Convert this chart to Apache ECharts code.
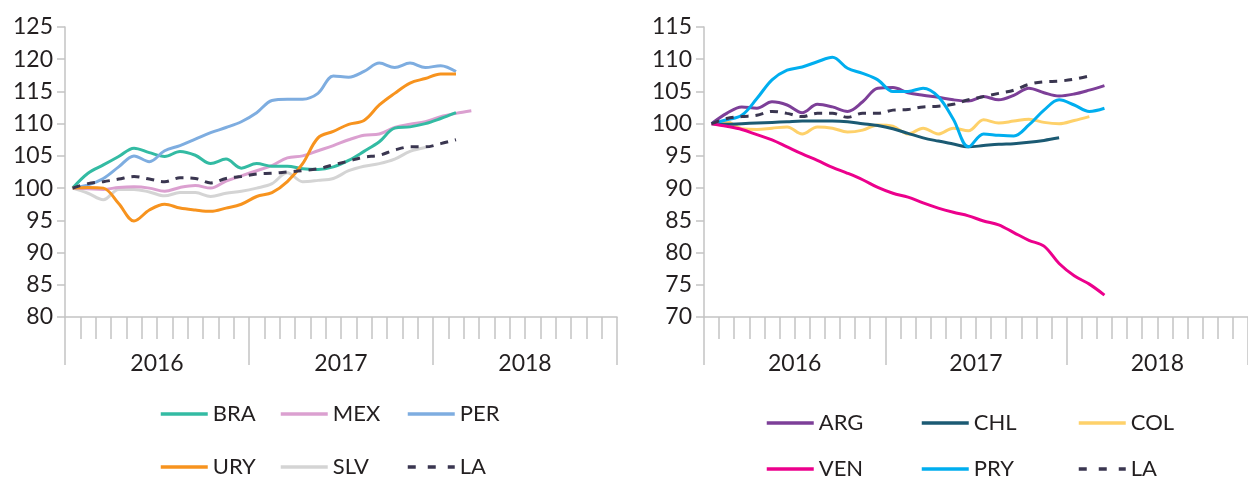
<!DOCTYPE html>
<html><head><meta charset="utf-8">
<script src="https://cdn.jsdelivr.net/npm/echarts@6/dist/echarts.min.js"></script>
<style>html,body{margin:0;padding:0;background:#fff}#c{width:1248px;height:479px}</style>
</head><body><div id="c"></div>
<script>
// ---- data ----
const months = ['2016-01','2016-02','2016-03','2016-04','2016-05','2016-06','2016-07','2016-08','2016-09','2016-10','2016-11','2016-12',
                '2017-01','2017-02','2017-03','2017-04','2017-05','2017-06','2017-07','2017-08','2017-09','2017-10','2017-11','2017-12',
                '2018-01','2018-02','2018-03','2018-04','2018-05','2018-06','2018-07','2018-08','2018-09','2018-10','2018-11','2018-12'];
const years = ['2016','2017','2018'];

// left panel
const BRA = [100,102.3,103.6,104.9,106.2,105.5,104.9,105.7,105.1,103.8,104.5,103.1,103.8,103.4,103.4,103.0,102.9,103.3,104.3,105.7,107.2,109.3,109.5,110.0,110.8,111.7];
const MEX = [100,99.9,99.8,100.1,100.2,100.0,99.5,100.1,100.4,100.0,101.1,101.9,102.7,103.5,104.7,105.0,105.8,106.6,107.5,108.2,108.4,109.4,109.9,110.3,111.1,111.6,112.0];
const PER = [100,100.5,101.5,103.3,105.0,104.1,105.8,106.6,107.6,108.6,109.4,110.3,111.7,113.6,113.8,113.8,114.7,117.4,117.2,118.1,119.4,118.7,119.4,118.7,119.0,118.1];
const URY = [100,100.1,100.0,97.6,94.9,96.6,97.5,96.9,96.6,96.4,96.9,97.5,98.7,99.3,101.0,103.8,107.8,108.8,109.9,110.5,112.9,114.7,116.3,117.0,117.7,117.7];
const SLV = [100,99.2,98.2,99.8,99.8,99.4,98.8,99.3,99.3,98.7,99.2,99.5,100.0,100.7,102.4,101.0,101.2,101.5,102.7,103.4,103.8,104.5,105.7,106.3];
const LA_L = [100,100.7,101.0,101.4,101.8,101.4,101.0,101.6,101.5,100.8,101.5,101.8,102.2,102.3,102.5,102.7,103.0,103.6,104.2,104.8,105.1,105.9,106.4,106.4,106.9,107.5];

// right panel
const ARG = [100,101.6,102.6,102.4,103.4,102.9,101.7,103.0,102.6,101.9,103.4,105.5,105.6,104.8,104.4,104.1,103.7,103.5,104.2,103.7,104.4,105.5,104.8,104.3,104.6,105.2,105.9];
const CHL = [100,99.9,100.0,100.1,100.2,100.3,100.4,100.4,100.4,100.3,100.0,99.7,99.2,98.5,97.8,97.3,96.85,96.4,96.6,96.8,96.9,97.1,97.4,97.8];
const COL = [100,100.3,99.2,99.1,99.3,99.5,98.4,99.5,99.3,98.7,99.0,99.8,99.6,98.4,99.3,98.4,99.3,98.9,100.6,100.1,100.4,100.7,100.2,100.0,100.5,101.1];
const VEN = [100,99.6,99.1,98.3,97.5,96.4,95.3,94.3,93.2,92.3,91.3,90.1,89.2,88.6,87.7,86.9,86.25,85.7,84.9,84.3,83.1,81.9,81.0,78.3,76.4,75.1,73.4];
const PRY = [100,100.6,101.3,103.9,106.8,108.3,108.8,109.6,110.3,108.6,107.8,106.8,105.0,105.0,105.5,104.2,100.7,96.4,98.4,98.2,98.1,99.8,102.1,103.7,102.9,101.9,102.4];
const LA_R = [100,100.8,101.1,101.3,101.9,101.6,101.1,101.6,101.6,101.0,101.6,101.6,102.1,102.2,102.6,102.7,103.0,103.7,104.2,104.7,105.2,106.1,106.5,106.6,106.9,107.4];

const leftY = {min: 80, max: 125, step: 5};
const rightY = {min: 70, max: 115, step: 5};

// ---- chart ----
const FONT = 'Lato';
const TXT = '#231f20';
const AX = '#c3c3c3';
const chart = echarts.init(document.getElementById('c'), null, {renderer: 'canvas'});

function monthAxis(g) {
  return {type: 'category', gridIndex: g, position: 'bottom', data: months, boundaryGap: true,
    axisLine: {show: true, lineStyle: {color: AX, width: 1.5}},
    axisTick: {show: true, interval: 0, length: 22, lineStyle: {color: AX, width: 1.5}},
    axisLabel: {show: false}, splitLine: {show: false}};
}
function yearAxis(g) {
  return {type: 'category', gridIndex: g, position: 'bottom', data: years, boundaryGap: true,
    axisLine: {show: false},
    axisTick: {show: true, interval: 0, length: 48, lineStyle: {color: AX, width: 1.5}},
    axisLabel: {show: true, margin: 35, fontSize: 23, color: TXT, fontFamily: FONT},
    splitLine: {show: false}};
}
function valAxis(g, r) {
  return {type: 'value', gridIndex: g, min: r.min, max: r.max, interval: r.step,
    axisLine: {show: true, lineStyle: {color: AX, width: 1.5}},
    axisTick: {show: true, length: 8, lineStyle: {color: AX, width: 1.5}},
    axisLabel: {margin: 12, fontSize: 23, color: TXT, fontFamily: FONT},
    splitLine: {show: false}};
}
function line(name, data, color, xi, yi, dashed) {
  return {type: 'line', name: name, data: data, xAxisIndex: xi, yAxisIndex: yi,
    symbol: 'none', smooth: 0.35, color: color,
    lineStyle: {color: color, width: 3, type: dashed ? [8, 7] : 'solid'}};
}
function leg(name, x, y, dashed) {
  return {data: [name], left: x, top: y - 11, padding: 0, itemWidth: 47, itemHeight: 14,
    itemStyle: {color: 'rgba(0,0,0,0)', borderWidth: 0, opacity: 0},
    lineStyle: {width: 3.5, type: dashed ? [8, 12] : 'solid'},
    textStyle: {fontSize: 22, lineHeight: 22, color: TXT, fontFamily: FONT}, selectedMode: false};
}

chart.setOption({
  animation: false,
  backgroundColor: '#fff',
  grid: [
    {left: 65, top: 27, width: 552, height: 290},
    {left: 704, top: 27, width: 552, height: 290}
  ],
  xAxis: [monthAxis(0), yearAxis(0), monthAxis(1), yearAxis(1)],
  yAxis: [valAxis(0, leftY), valAxis(1, rightY)],
  legend: [
    leg('BRA', 159, 414), leg('MEX', 279, 414), leg('PER', 406, 414),
    leg('URY', 159, 467), leg('SLV', 279, 467), leg('LA', 406, 467, true),
    leg('ARG', 765, 423), leg('CHL', 920, 423), leg('COL', 1077, 423),
    leg('VEN', 765, 469), leg('PRY', 920, 469), leg('LA', 1077, 469, true)
  ],
  series: [
    line('SLV', SLV, '#d4d4d4', 0, 0),
    line('MEX', MEX, '#dba0d0', 0, 0),
    line('BRA', BRA, '#33bba3', 0, 0),
    line('PER', PER, '#7eade0', 0, 0),
    line('URY', URY, '#f7931e', 0, 0),
    line('LA', LA_L, '#3a3650', 0, 0, true),
    line('COL', COL, '#fed16a', 2, 1),
    line('CHL', CHL, '#1b5a73', 2, 1),
    line('ARG', ARG, '#7d3f98', 2, 1),
    line('PRY', PRY, '#00aeef', 2, 1),
    line('VEN', VEN, '#ec008c', 2, 1),
    line('LA', LA_R, '#3a3650', 2, 1, true)
  ]
});
</script></body></html>
